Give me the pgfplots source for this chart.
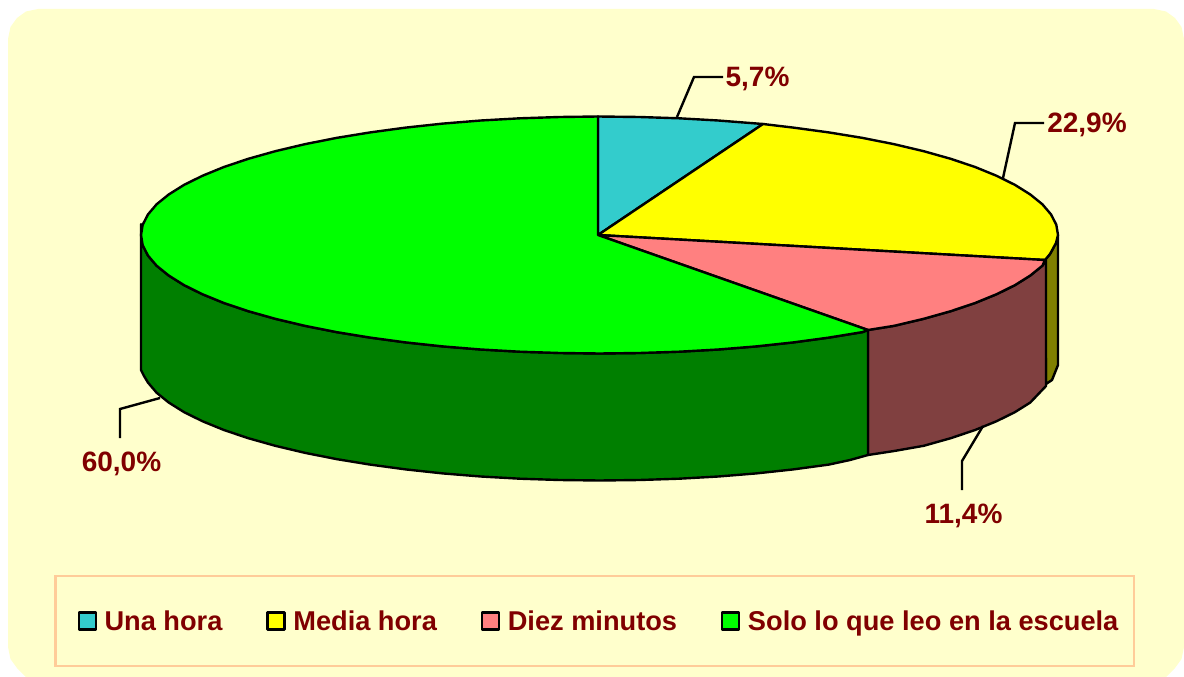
\documentclass[border=0pt]{standalone}
\usepackage{fontspec}
\setmainfont{Liberation Sans}
\usepackage{pgfplots}
\pgfplotsset{compat=1.18}
\definecolor{panel}{HTML}{FFFFCC}
\definecolor{frameC}{HTML}{FFCC99}
\definecolor{txt}{HTML}{800000}
\definecolor{teal3}{HTML}{33CCCC}
\definecolor{yellow3}{HTML}{FFFF00}
\definecolor{pink3}{HTML}{FF8080}
\definecolor{green3}{HTML}{00FF00}
\definecolor{brown3}{HTML}{804040}
\definecolor{dgreen3}{HTML}{007F00}
\definecolor{olive3}{HTML}{808000}
\begin{document}
\begin{tikzpicture}
\begin{axis}[
  width=1184pt,height=677pt,scale only axis,
  xmin=0,xmax=1184,ymin=0,ymax=677,y dir=reverse,
  hide axis,clip=true,
  legend columns=4,
  legend cell align=left,
  legend image code/.code={\draw[#1,line width=2.4pt] (0pt,-8.5pt) rectangle (17pt,8.5pt);},
  legend style={at={(axis cs:599,621)},anchor=center,draw=none,fill=none,
    text=txt,font=\bfseries\fontsize{27.2}{32}\selectfont,
    /tikz/column 1/.style={column sep=5.5pt},
    /tikz/column 3/.style={column sep=5.5pt},
    /tikz/column 5/.style={column sep=5.5pt},
    /tikz/column 7/.style={column sep=5.5pt},
    /tikz/column 2/.style={column sep=42pt},
    /tikz/column 4/.style={column sep=42pt},
    /tikz/column 6/.style={column sep=42pt}},
]
% canvas and panel
\addplot[forget plot,draw=none,fill=white] coordinates {(0,0)(1184,0)(1184,677)(0,677)} --cycle;
\addplot[forget plot,draw=none,fill=panel] coordinates {
(38,9)(1154,9)(1166,11.5)(1175,18)(1181.5,27)(1184,39)(1184,647)(1181.5,659)(1175,668)(1166,677)
(26,677)(17,668)(10.5,659)(8,647)(8,39)(10.5,27)(17,18)(26,11.5)} --cycle;
% legend frame
\addplot[forget plot,draw=frameC,line width=2.4pt,fill=none] coordinates {(55.5,576)(1134,576)(1134,666)(55.5,666)} --cycle;
% sides
\addplot[forget plot,draw=black,line width=2.4pt,fill=olive3,line join=round] coordinates {
(1045,260)(1050,254)(1056,243)(1058,235)(1058,365)(1052,380)(1046,384)} --cycle;
\addplot[forget plot,draw=black,line width=2.4pt,fill=brown3,line join=round] coordinates {
(1046,260)(1042.4,265.7)(1030.3,275.5)(1015,285.1)(996.6,294.2)(975.1,303)(950.7,311.2)(923.7,318.8)(894.2,325.8)(868,330)
(868,455)(894.2,451)(923.7,445.8)(950.7,438.2)(975.1,430)(996.6,421.2)(1015,412.1)(1030.3,402.5)(1046,386)} --cycle;
\addplot[forget plot,draw=black,line width=2.4pt,fill=dgreen3,line join=round] coordinates {
(868,330)(862.5,332.1)(828.8,337.6)(793.3,342.4)(756.3,346.4)(718.2,349.5)(679.1,351.7)(639.5,353)(599.5,353.5)
(559.5,353)(519.9,351.7)(480.8,349.5)(442.7,346.4)(405.7,342.4)(370.2,337.6)(336.5,332.1)(304.8,325.8)(275.3,318.8)
(248.3,311.2)(223.9,303)(202.4,294.2)(184,285.1)(168.7,275.5)(156.6,265.7)(148,255.6)(142.7,245.3)(141,235)(141,224)
(141,370)(144,376)(148,382.6)(156.6,392.7)(168.7,402.5)(184,412.1)(202.4,421.2)(223.9,430)(248.3,438.2)(275.3,445.8)
(304.8,452.8)(336.5,459.1)(370.2,464.6)(405.7,469.4)(442.7,473.4)(480.8,476.5)(519.9,478.7)(559.5,480)(599.5,480.5)
(639.5,480)(679.1,478.7)(718.2,476.5)(756.3,473.4)(793.3,469.4)(828.8,464.6)(850,460)(868,455)} --cycle;
% top of the pie
\addplot[draw=black,line width=2.4pt,fill=teal3,line join=round] coordinates {
(598,235)(598,116.5)(639.5,117)(679.1,118.3)(718.2,120.5)(763,124)} --cycle;
\addlegendentry{Una hora}
\addplot[draw=black,line width=2.4pt,fill=yellow3,line join=round] coordinates {
(598,235)(763,124)(793.3,127.6)(828.8,132.4)(862.5,137.9)(894.2,144.2)(923.7,151.2)(950.7,158.8)(975.1,167)(996.6,175.8)
(1015,184.9)(1030.3,194.5)(1042.4,204.3)(1051,214.4)(1056.3,224.7)(1058,235)(1056,243)(1050,254)(1045,260)} --cycle;
\addlegendentry{Media hora}
\addplot[draw=black,line width=2.4pt,fill=pink3,line join=round] coordinates {
(598,235)(1045,260)(1042.4,265.7)(1030.3,275.5)(1015,285.1)(996.6,294.2)(975.1,303)(950.7,311.2)(923.7,318.8)(894.2,325.8)(868,330)} --cycle;
\addlegendentry{Diez minutos}
\addplot[draw=black,line width=2.4pt,fill=green3,line join=round] coordinates {
(598,235)(868,330)(862.5,332.1)(828.8,337.6)(793.3,342.4)(756.3,346.4)(718.2,349.5)(679.1,351.7)(639.5,353)(599.5,353.5)
(559.5,353)(519.9,351.7)(480.8,349.5)(442.7,346.4)(405.7,342.4)(370.2,337.6)(336.5,332.1)(304.8,325.8)(275.3,318.8)
(248.3,311.2)(223.9,303)(202.4,294.2)(184,285.1)(168.7,275.5)(156.6,265.7)(148,255.6)(142.7,245.3)(141,235)(142.7,224.7)
(148,214.4)(156.6,204.3)(168.7,194.5)(184,184.9)(202.4,175.8)(223.9,167)(248.3,158.8)(275.3,151.2)(304.8,144.2)
(336.5,137.9)(370.2,132.4)(405.7,127.6)(442.7,123.6)(480.8,120.5)(519.9,118.3)(559.5,117)(598,116.5)} --cycle;
\addlegendentry{Solo lo que leo en la escuela}
% leader lines
\addplot[forget plot,black,line width=2.4pt] coordinates {(677,117)(694,77)(723,77)};
\addplot[forget plot,black,line width=2.4pt] coordinates {(1003,178)(1015,123)(1044,123)};
\addplot[forget plot,black,line width=2.4pt] coordinates {(983,426)(962,461)(962,490)};
\addplot[forget plot,black,line width=2.4pt] coordinates {(160,398)(120,409)(120,438)};
% value labels
\tikzset{vl/.style={text=txt,font=\bfseries\fontsize{28}{32}\selectfont,inner sep=0pt,anchor=center}}
\node[vl] at (axis cs:757.5,79) {5,7\%};
\node[vl] at (axis cs:1087,125) {22,9\%};
\node[vl] at (axis cs:963.5,516) {11,4\%};
\node[vl] at (axis cs:121.5,464) {60,0\%};
\end{axis}
\end{tikzpicture}
\end{document}
